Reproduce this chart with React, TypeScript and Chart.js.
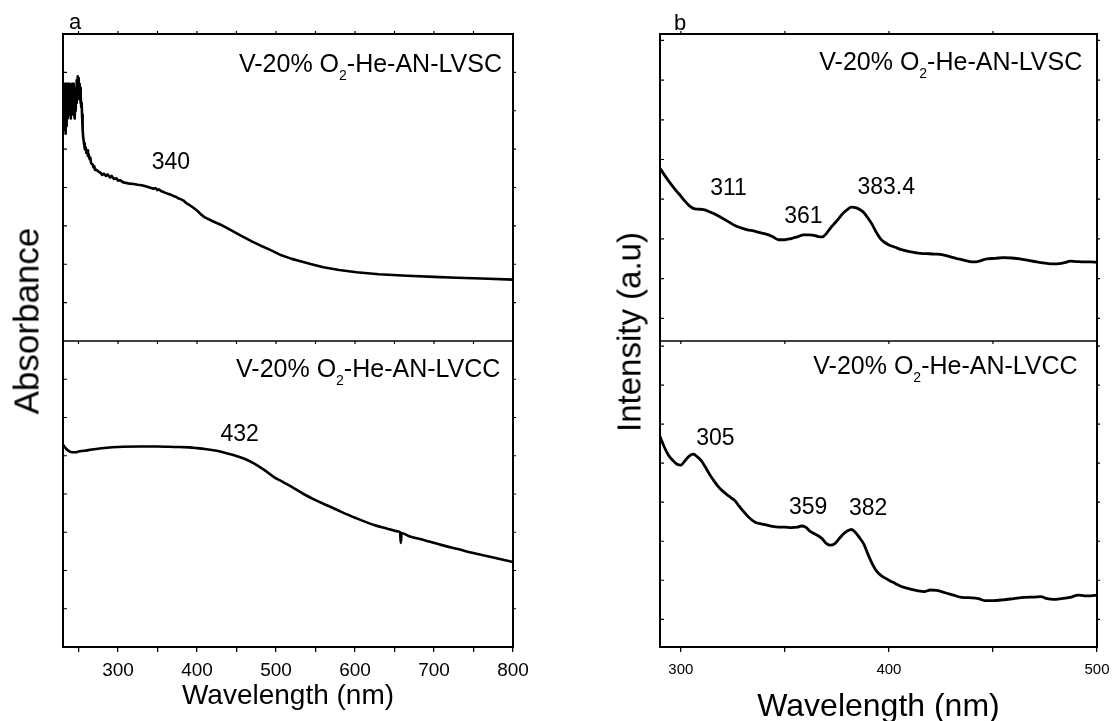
import React, { useEffect, useRef } from 'react';
import { Chart, registerables } from 'chart.js';

Chart.register(...registerables);

const FONT = '"Liberation Sans", Arial, Helvetica, sans-serif';

// ---------- Panel a : UV-vis absorbance ----------
const absWlTop = [230, 230.5, 231, 231.5, 232, 232.5, 233, 233.5, 234, 234.5, 235, 235.5, 236, 236.5, 237, 237.5, 238, 238.5, 239, 239.5, 240, 240.5, 241, 241.5, 242, 242.5, 243, 243.5, 244, 244.5, 245, 245.5, 246, 246.5, 247, 247.5, 248, 248.5, 249, 249.5, 250, 250.5, 251, 251.5, 252, 252.5, 253, 253.5, 254, 254.5, 255, 255.5, 256, 257, 258, 259, 260, 261, 262, 263, 264, 265, 266, 268, 269, 270, 271, 272, 275, 278, 280, 282, 285, 287, 290, 292, 295, 298, 300, 303, 306, 310, 315, 320, 325, 330, 335, 340, 345, 348, 350, 352, 355, 358, 360, 363, 366, 370, 373, 376, 380, 383, 386, 390, 395, 400, 405, 410, 420, 430, 440, 455, 470, 480, 490, 505, 520, 531, 545, 560, 580, 602, 630, 666, 700, 729, 760, 800];
const absTop = [6.65, 6.0, 6.7, 5.5, 6.6, 5.9, 6.7, 5.4, 6.3, 5.6, 6.7, 6.0, 6.65, 5.8, 6.7, 6.1, 6.6, 5.9, 6.7, 6.2, 6.5, 5.8, 6.6, 5.9, 6.7, 6.3, 6.6, 6.0, 6.7, 5.9, 6.5, 5.8, 6.4, 6.0, 6.6, 6.2, 6.8, 6.3, 6.9, 6.5, 6.85, 6.4, 6.7, 6.3, 6.6, 6.2, 6.4, 6.1, 6.2, 5.9, 5.7, 5.5, 5.3, 5.15, 5.0, 5.05, 4.9, 4.97, 4.82, 4.86, 4.74, 4.78, 4.63, 4.6, 4.52, 4.55, 4.46, 4.47, 4.42, 4.38, 4.33, 4.36, 4.3, 4.34, 4.26, 4.3, 4.22, 4.24, 4.18, 4.19, 4.14, 4.12, 4.1, 4.09, 4.07, 4.06, 4.03, 4.0, 3.97, 3.98, 3.93, 3.95, 3.9, 3.88, 3.86, 3.84, 3.82, 3.78, 3.76, 3.72, 3.69, 3.66, 3.6, 3.55, 3.48, 3.4, 3.3, 3.22, 3.12, 3.03, 2.92, 2.75, 2.59, 2.49, 2.4, 2.25, 2.14, 2.08, 2.0, 1.92, 1.85, 1.79, 1.74, 1.7, 1.67, 1.65, 1.63, 1.6];

const absWlBot = [230, 232, 235, 238, 242, 246, 250, 257, 270, 286, 300, 328, 350, 371, 390, 400, 412, 425, 435, 446, 460, 472, 485, 497, 510, 523, 535, 548, 565, 582, 600, 624, 640, 655, 657, 658, 659, 667, 688, 709, 730, 751, 775, 800];
const absBot = [5.3, 5.24, 5.17, 5.12, 5.09, 5.09, 5.11, 5.13, 5.17, 5.21, 5.23, 5.24, 5.24, 5.23, 5.22, 5.2, 5.17, 5.13, 5.08, 5.02, 4.92, 4.8, 4.63, 4.45, 4.3, 4.15, 4.0, 3.86, 3.7, 3.54, 3.38, 3.19, 3.1, 3.02, 3.0, 2.72, 2.98, 2.91, 2.79, 2.67, 2.56, 2.45, 2.34, 2.22];

// ---------- Panel b : photoluminescence ----------
const plWlTop = [290, 292, 295, 298, 300, 302, 304, 306, 308, 311, 314, 317, 320, 323, 326, 329, 332, 335, 338, 341, 344, 347, 350, 353, 356, 359, 362, 364, 366, 368, 370, 372, 374, 376, 378, 380, 382, 384, 386, 388, 390, 392, 394, 396, 398, 400, 403, 406, 410, 414, 418, 422, 426, 430, 434, 438, 441, 444, 447, 451, 455, 459, 463, 467, 471, 475, 479, 482, 485, 487, 490, 494, 497, 500];
const plTop = [3.78, 3.62, 3.4, 3.2, 3.08, 2.95, 2.84, 2.77, 2.75, 2.74, 2.68, 2.61, 2.52, 2.43, 2.34, 2.28, 2.23, 2.2, 2.16, 2.12, 2.06, 1.98, 1.98, 2.01, 2.05, 2.1, 2.1, 2.09, 2.06, 2.05, 2.14, 2.28, 2.4, 2.52, 2.65, 2.74, 2.8, 2.79, 2.74, 2.66, 2.52, 2.36, 2.16, 2.0, 1.91, 1.85, 1.79, 1.73, 1.68, 1.64, 1.63, 1.62, 1.6, 1.54, 1.49, 1.44, 1.42, 1.45, 1.5, 1.51, 1.53, 1.52, 1.5, 1.46, 1.42, 1.39, 1.37, 1.38, 1.41, 1.44, 1.43, 1.42, 1.42, 1.41];

const plWlBot = [290, 292, 294, 296, 298, 300, 302, 304, 306, 308, 310, 312, 314, 316, 318, 320, 322, 324, 326, 328, 330, 332, 334, 336, 338, 341, 344, 347, 350, 353, 356, 358, 360, 362, 364, 366, 368, 370, 372, 374, 376, 378, 380, 382, 384, 386, 388, 390, 392, 394, 396, 398, 400, 403, 406, 410, 414, 417, 420, 423, 427, 431, 435, 440, 443, 446, 450, 455, 460, 465, 470, 473, 476, 479, 483, 487, 491, 494, 497, 500];
const plBot = [4.68, 4.42, 4.21, 4.08, 3.98, 3.95, 4.06, 4.18, 4.23, 4.16, 4.05, 3.88, 3.7, 3.54, 3.4, 3.29, 3.2, 3.12, 3.04, 2.9, 2.77, 2.65, 2.55, 2.48, 2.45, 2.42, 2.38, 2.36, 2.36, 2.35, 2.36, 2.39, 2.36, 2.26, 2.2, 2.14, 2.06, 1.94, 1.9, 1.94, 2.06, 2.18, 2.26, 2.3, 2.22, 2.08, 1.92, 1.66, 1.42, 1.24, 1.13, 1.06, 1.0, 0.92, 0.84, 0.78, 0.73, 0.71, 0.75, 0.74, 0.68, 0.62, 0.56, 0.55, 0.53, 0.48, 0.48, 0.5, 0.53, 0.56, 0.57, 0.58, 0.53, 0.51, 0.53, 0.56, 0.62, 0.6, 0.6, 0.62];

// ---------- Labels ----------
const sampleLVSC = ['V-20% O', '2', '-He-AN-LVSC'];
const sampleLVCC = ['V-20% O', '2', '-He-AN-LVCC'];

const peakTextAT = ['340'];
const peakXAT = [367];
const peakYAT = [4.48];
const peakTextAB = ['432'];
const peakXAB = [454];
const peakYAB = [5.38];
const peakTextBT = ['311', '361', '383.4'];
const peakXBT = [322.9, 358.9, 398.7];
const peakYBT = [3.11, 2.41, 3.12];
const peakTextBB = ['305', '359', '382'];
const peakXBB = [316.6, 361.2, 390];
const peakYBB = [4.46, 2.71, 2.67];

const xTitle = 'Wavelength (nm)';
const yTitleA = 'Absorbance';
const yTitleB = 'Intensity (a.u)';

type Cfg = {
  left: number; top: number; width: number; height: number;
  padding: { left: number; right: number; top: number; bottom: number };
  xMin: number; xMax: number; yMin: number; yMax: number;
  xs: number[]; ys: number[];
  lineWidth: number; smooth: boolean;
  upper: boolean;
  xTickFont?: number; xTickPad?: number; xTitleFont?: number; xTitlePad?: number; xTitleLH?: number; axisHeight?: number;
  sample: string[]; sampleX: number; sampleY: number;
  peaks: string[]; peakX: number[]; peakY: number[];
  letter?: string; letterDX?: number; letterY?: number;
};

function makePlugin(c: Cfg) {
  return {
    id: 'frameAndText',
    afterDraw(chart: any) {
      const { ctx, chartArea: a } = chart;
      const sx = chart.scales.x;
      const sy = chart.scales.y;
      ctx.save();
      ctx.strokeStyle = '#000';
      ctx.fillStyle = '#000';
      ctx.lineCap = 'butt';
      // frame
      ctx.lineWidth = 2;
      ctx.beginPath();
      ctx.moveTo(a.left, a.top - 1);
      ctx.lineTo(a.left, a.bottom + 1);
      ctx.moveTo(a.right, a.top - 1);
      ctx.lineTo(a.right, a.bottom + 1);
      if (c.upper) {
        ctx.moveTo(a.left - 1, a.top);
        ctx.lineTo(a.right + 1, a.top);
      } else {
        ctx.moveTo(a.left - 1, a.bottom);
        ctx.lineTo(a.right + 1, a.bottom);
      }
      ctx.stroke();
      if (c.upper) {
        ctx.lineWidth = 1.3;
        ctx.beginPath();
        ctx.moveTo(a.left, a.bottom);
        ctx.lineTo(a.right, a.bottom);
        ctx.stroke();
      }
      // y ticks
      ctx.lineWidth = 1.2;
      ctx.beginPath();
      for (let v = Math.ceil(c.yMin); v <= Math.floor(c.yMax); v++) {
        const py = sy.getPixelForValue(v);
        if (py <= a.top + 2 || py >= a.bottom - 2) continue;
        ctx.moveTo(a.left, py);
        ctx.lineTo(a.left + 4, py);
        ctx.moveTo(a.right, py);
        ctx.lineTo(a.right + 3, py);
      }
      // x ticks on top edge and divider
      if (c.upper) {
        for (let v = Math.ceil(c.xMin / 50) * 50; v <= c.xMax; v += 50) {
          const px = sx.getPixelForValue(v);
          if (px <= a.left + 2 || px >= a.right - 2) continue;
          ctx.moveTo(px, a.top);
          ctx.lineTo(px, a.top - 3);
          ctx.moveTo(px, a.bottom);
          ctx.lineTo(px, a.bottom + 3);
        }
      }
      ctx.stroke();

      // sample label, right aligned with subscript
      const big = `25px ${FONT}`;
      const small = `14px ${FONT}`;
      ctx.textBaseline = 'alphabetic';
      ctx.textAlign = 'left';
      ctx.font = big;
      const w0 = ctx.measureText(c.sample[0]).width;
      const w2 = ctx.measureText(c.sample[2]).width;
      ctx.font = small;
      const w1 = ctx.measureText(c.sample[1]).width;
      const rx = sx.getPixelForValue(c.sampleX);
      const by = sy.getPixelForValue(c.sampleY);
      let x0 = rx - (w0 + w1 + w2);
      ctx.font = big;
      ctx.fillText(c.sample[0], x0, by);
      x0 += w0;
      ctx.font = small;
      ctx.fillText(c.sample[1], x0, by + 8);
      x0 += w1;
      ctx.font = big;
      ctx.fillText(c.sample[2], x0, by);

      // peak labels
      ctx.font = `23px ${FONT}`;
      ctx.textAlign = 'center';
      c.peaks.forEach((t, i) => {
        ctx.fillText(t, sx.getPixelForValue(c.peakX[i]), sy.getPixelForValue(c.peakY[i]));
      });

      // panel letter
      if (c.letter) {
        ctx.font = `22px ${FONT}`;
        ctx.textAlign = 'left';
        ctx.fillText(c.letter, a.left + (c.letterDX || 0), c.letterY || 0);
      }
      ctx.restore();
    },
  };
}

function Panel({ c }: { c: Cfg }) {
  const ref = useRef<HTMLCanvasElement>(null);
  useEffect(() => {
    const canvas = ref.current;
    if (!canvas) return;
    const chart = new Chart(canvas, {
      type: 'line',
      data: {
        datasets: [
          {
            data: c.xs.map((x, i) => ({ x, y: c.ys[i] })),
            borderColor: '#000',
            borderWidth: c.lineWidth,
            pointRadius: 0,
            fill: false,
            tension: 0,
            cubicInterpolationMode: c.smooth ? 'monotone' : 'default',
            borderJoinStyle: 'round',
            borderCapStyle: 'round',
          } as any,
        ],
      },
      options: {
        responsive: false,
        animation: false,
        devicePixelRatio: 1,
        events: [],
        layout: { padding: c.padding },
        plugins: { legend: { display: false }, tooltip: { enabled: false } },
        scales: {
          x: {
            type: 'linear',
            min: c.xMin,
            max: c.xMax,
            display: !c.upper,
            ticks: {
              stepSize: 50,
              includeBounds: false,
              autoSkip: false,
              maxRotation: 0,
              color: '#000',
              padding: c.xTickPad || 0,
              font: { family: FONT, size: c.xTickFont || 12, lineHeight: 1 },
              callback: (v: any) => (Number(v) % 100 === 0 ? String(v) : ''),
            },
            grid: {
              display: true,
              drawOnChartArea: false,
              drawTicks: true,
              tickLength: 5,
              color: '#000',
              lineWidth: 1.3,
            },
            border: { display: false },
            title: {
              display: true,
              text: xTitle,
              color: '#000',
              font: { family: FONT, size: c.xTitleFont || 12, lineHeight: c.xTitleLH || 1 },
              padding: { top: 0, bottom: c.xTitlePad || 0 },
            },
            afterFit: (s: any) => {
              s.height = c.axisHeight || 0;
              s.paddingLeft = 0;
              s.paddingRight = 0;
            },
          },
          y: { type: 'linear', min: c.yMin, max: c.yMax, display: false },
        },
      } as any,
      plugins: [makePlugin(c)],
    });
    return () => chart.destroy();
  }, []);
  return (
    <canvas
      ref={ref}
      width={c.width}
      height={c.height}
      style={{ position: 'absolute', left: c.left, top: c.top, width: c.width, height: c.height }}
    />
  );
}

const aTop: Cfg = {
  left: 0, top: 0, width: 556, height: 345,
  padding: { left: 63, right: 43, top: 34, bottom: 4 },
  xMin: 230.4, xMax: 800, yMin: 0, yMax: 8,
  xs: absWlTop, ys: absTop, lineWidth: 2.6, smooth: false, upper: true,
  sample: sampleLVSC, sampleX: 786, sampleY: 7.02,
  peaks: peakTextAT, peakX: peakXAT, peakY: peakYAT,
  letter: 'a', letterDX: 6, letterY: 29,
};
const aBot: Cfg = {
  left: 0, top: 337, width: 556, height: 384,
  padding: { left: 63, right: 43, top: 4, bottom: 0 },
  xMin: 230.4, xMax: 800, yMin: 0, yMax: 8,
  xs: absWlBot, ys: absBot, lineWidth: 2.6, smooth: true, upper: false,
  xTickFont: 19, xTickPad: 9, xTitleFont: 28, xTitlePad: 10.7, xTitleLH: 1, axisHeight: 74,
  sample: sampleLVCC, sampleX: 784, sampleY: 7.06,
  peaks: peakTextAB, peakX: peakXAB, peakY: peakYAB,
};
const bTop: Cfg = {
  left: 556, top: 0, width: 556, height: 345,
  padding: { left: 104, right: 15, top: 34, bottom: 4 },
  xMin: 290, xMax: 500, yMin: -0.57, yMax: 7.16,
  xs: plWlTop, ys: plTop, lineWidth: 2.8, smooth: true, upper: true,
  sample: sampleLVSC, sampleX: 492.9, sampleY: 6.25,
  peaks: peakTextBT, peakX: peakXBT, peakY: peakYBT,
  letter: 'b', letterDX: 14, letterY: 30,
};
const bBot: Cfg = {
  left: 556, top: 337, width: 556, height: 384,
  padding: { left: 104, right: 15, top: 4, bottom: 0 },
  xMin: 290, xMax: 500, yMin: -0.71, yMax: 7.13,
  xs: plWlBot, ys: plBot, lineWidth: 2.8, smooth: true, upper: false,
  xTickFont: 15, xTickPad: 10, xTitleFont: 32, xTitlePad: 1.3, xTitleLH: 0.8, axisHeight: 74,
  sample: sampleLVCC, sampleX: 490.7, sampleY: 6.28,
  peaks: peakTextBB, peakX: peakXBB, peakY: peakYBB,
};

function YTitle({ text, cx, cy, size }: { text: string; cx: number; cy: number; size: number }) {
  return (
    <div
      style={{
        position: 'absolute',
        left: cx,
        top: cy,
        transform: 'translate(-50%, -50%) rotate(-90deg)',
        fontFamily: FONT,
        fontSize: size,
        lineHeight: 1,
        whiteSpace: 'nowrap',
        color: '#000',
      }}
    >
      {text}
    </div>
  );
}

export default function App() {
  return (
    <div
      style={{
        position: 'absolute',
        left: 0,
        top: 0,
        width: 1112,
        height: 721,
        background: '#fff',
        overflow: 'hidden',
      }}
    >
      <Panel c={aTop} />
      <Panel c={aBot} />
      <Panel c={bTop} />
      <Panel c={bBot} />
      <YTitle text={yTitleA} cx={25.9} cy={320.5} size={35} />
      <YTitle text={yTitleB} cx={628.6} cy={331.5} size={33} />
    </div>
  );
}
